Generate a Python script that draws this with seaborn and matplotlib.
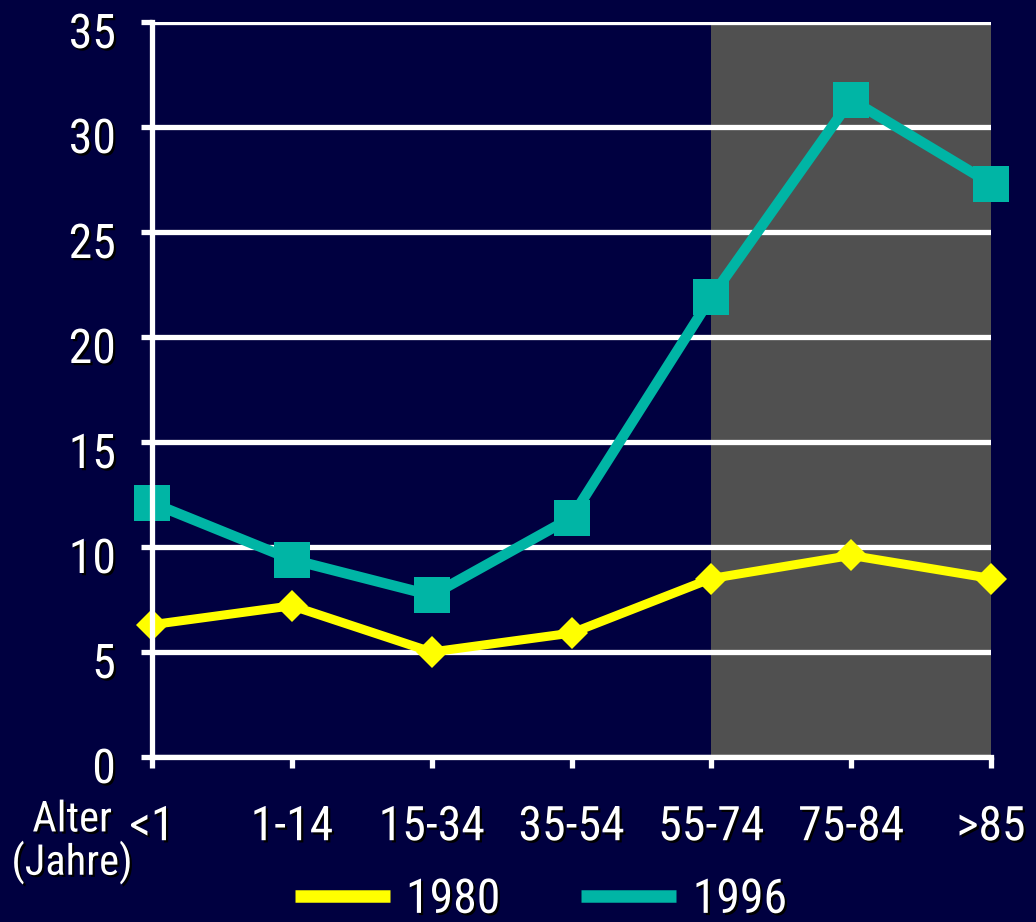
import matplotlib
matplotlib.use("Agg")
import matplotlib.pyplot as plt
import matplotlib.patheffects as pe
from matplotlib import font_manager as fm
from matplotlib.lines import Line2D
from matplotlib.transforms import ScaledTranslation
import seaborn as sns
import pandas as pd

# ---- data ----
categories = ["<1", "1-14", "15-34", "35-54", "55-74", "75-84", ">85"]
values_1980 = [6.3, 7.2, 5.0, 5.9, 8.5, 9.6, 8.5]
values_1996 = [12.1, 9.4, 7.7, 11.4, 21.9, 31.3, 27.3]
series_names = ["1980", "1996"]
y_ticks = [0, 5, 10, 15, 20, 25, 30, 35]
x_label = "Alter\n(Jahre)"

BG = "#000040"
GRAY = "#505050"
YELLOW = "#FFFF00"
TEAL = "#00B5A5"

sns.set_theme(style="white")


def pick_font():
    entries = fm.fontManager.ttflist
    names = {f.name for f in entries}
    for cand in ["Liberation Sans Narrow", "Arial Narrow", "Roboto Condensed",
                 "Open Sans Condensed", "Noto Sans Condensed"]:
        if cand in names:
            return cand, "normal"
    for f in entries:
        if "Narrow" in f.name or "Condensed" in f.name:
            return f.name, "normal"
    for f in entries:
        if f.name == "DejaVu Sans" and str(f.stretch) in ("condensed", "semi-condensed"):
            return "DejaVu Sans", "condensed"
    for cand in ["Roboto", "Liberation Sans"]:
        if cand in names:
            return cand, "normal"
    return "DejaVu Sans", "normal"


FAM, STRETCH = pick_font()
plt.rcParams["font.family"] = [FAM, "DejaVu Sans"]
plt.rcParams["font.stretch"] = STRETCH

df = pd.DataFrame({
    "Alter": categories * 2,
    "Wert": values_1980 + values_1996,
    "Jahr": [series_names[0]] * len(categories) + [series_names[1]] * len(categories),
})

fig = plt.figure(figsize=(10.36, 9.22), dpi=100, facecolor=BG)

# choose a font size so that the tick labels are as wide as in the original
probe = fig.text(0, 0, "15-34", fontsize=36)
w = probe.get_window_extent(fig.canvas.get_renderer()).width
probe.remove()
FS = 36 * min(1.0, 106.0 / w)
FS_SMALL = FS * 32 / 36

ax = fig.add_axes([152 / 1036, 1 - 757 / 922, (991 - 152) / 1036, (757 - 22) / 922])
ax.set_facecolor(BG)

shadow = [pe.SimplePatchShadow(offset=(1.6, -1.6), shadow_rgbFace="black", alpha=1.0), pe.Normal()]

# grey highlighted region (55-74 .. >85)
ax.axvspan(4, 6, color=GRAY, zorder=0.2, lw=0)

sub80 = df[df["Jahr"] == "1980"]
sub96 = df[df["Jahr"] == "1996"]
sns.lineplot(data=sub80, x="Alter", y="Wert", ax=ax, color=YELLOW, lw=6.5,
             marker="D", markersize=16, markeredgewidth=0, sort=False,
             legend=False, zorder=3, clip_on=False)
sns.lineplot(data=sub96, x="Alter", y="Wert", ax=ax, color=TEAL, lw=7.5,
             marker="s", markersize=26, markeredgewidth=0, sort=False,
             legend=False, zorder=4, clip_on=False)

ax.set_xlim(0, 6)
ax.set_ylim(0, 35)
ax.set_yticks(y_ticks)
ax.set_xticks(range(len(categories)))
ax.set_xticklabels(categories)
ax.set_xlabel("")
ax.set_ylabel("")

# gridlines
ax.set_axisbelow(True)
ax.yaxis.grid(True, color="white", lw=3.8)
ax.xaxis.grid(False)

for s in ["top", "right"]:
    ax.spines[s].set_visible(False)
for s in ["left", "bottom"]:
    ax.spines[s].set_color("white")
    ax.spines[s].set_linewidth(3.8)
    ax.spines[s].set_zorder(5)

ax.tick_params(axis="both", which="major", bottom=True, left=True, direction="out",
               colors="white", width=3.8, length=8, labelsize=FS, labelcolor="white")
ax.tick_params(axis="y", pad=18)
ax.tick_params(axis="x", pad=26)

for lab in ax.get_yticklabels():
    lab.set_path_effects(shadow)
    lab.set_transform(lab.get_transform() + ScaledTranslation(0, -0.08, fig.dpi_scale_trans))
for lab in ax.get_xticklabels():
    lab.set_path_effects(shadow)

fig.text(72 / 1036, 1 - 842 / 922, x_label, color="white", fontsize=FS_SMALL,
         ha="center", va="center", linespacing=1.0, path_effects=shadow)

handles = [Line2D([0], [0], color=YELLOW, lw=9, solid_capstyle="butt"),
           Line2D([0], [0], color=TEAL, lw=9, solid_capstyle="butt")]
leg = fig.legend(handles, series_names, loc="center", bbox_to_anchor=(0.522, 0.024),
                 ncol=2, frameon=False, fontsize=FS, handlelength=95 / (FS * 100 / 72),
                 handletextpad=0.34, columnspacing=1.7)
for t in leg.get_texts():
    t.set_color("white")
    t.set_path_effects(shadow)

fig.savefig("out.png", dpi=100, facecolor=BG)
